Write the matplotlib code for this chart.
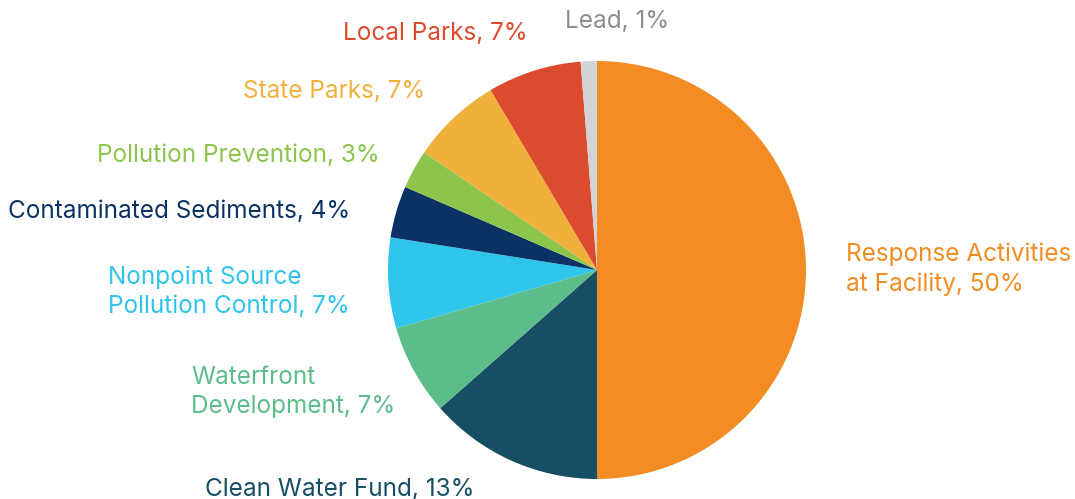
import matplotlib.pyplot as plt

# ==============================================
# Fund allocation pie chart
# ==============================================

categories = ['Response Activities\nat Facility', 'Clean Water Fund', 'Waterfront\nDevelopment',
              'Nonpoint Source\nPollution Control', 'Contaminated Sediments', 'Pollution Prevention',
              'State Parks', 'Local Parks', 'Lead']
values = [50, 13.5, 7, 7, 4, 3, 7, 7.25, 1.25]
pct_labels = ['50%', '13%', '7%', '7%', '4%', '3%', '7%', '7%', '1%']
colors = ['#F28C23', '#164F63', '#5CBD8A', '#2FC4EA', '#0B3265', '#8DC44B', '#F0B13C', '#DD4B2E', '#D1D3D4']
text_colors = ['#F28C23', '#164F63', '#5CBD8A', '#2FC4EA', '#0B3265', '#8DC44B', '#F0B13C', '#DD4B2E', '#8E8E8E']

# label anchor (left x, center y of text block) in pixels
label_pos = [(846, 269), (205, 489), (191, 392), (108, 292), (8, 211), (97, 156), (243, 92), (343, 34), (565, 21)]

W, H = 1075, 499
fig = plt.figure(figsize=(W / 100, H / 100), dpi=100)
plt.rcParams['font.family'] = ['Inter', 'DejaVu Sans']

ax = fig.add_axes([388 / W, 20 / H, 418 / W, 418 / H])
ax.pie(values, colors=colors, startangle=90, counterclock=False,
       wedgeprops=dict(linewidth=0))
ax.set_xlim(-1, 1)
ax.set_ylim(-1, 1)
ax.axis('off')

for cat, pct, (x, y), c in zip(categories, pct_labels, label_pos, text_colors):
    fig.text(x / W, 1 - y / H, f'{cat}, {pct}', color=c, fontsize=17.5,
             ha='left', va='center', linespacing=1.35)

fig.savefig('out.png', dpi=100)
